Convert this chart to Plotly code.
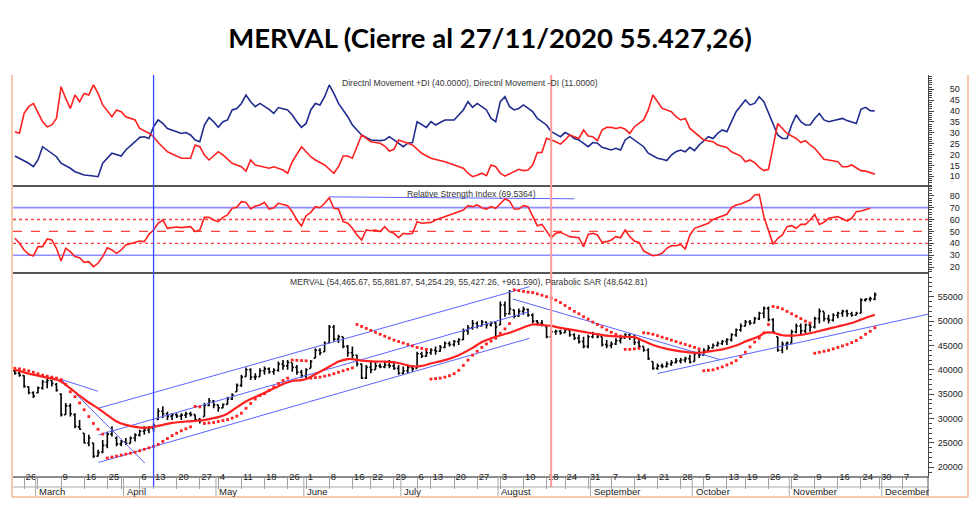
import pandas as pd
import plotly.graph_objects as go
from plotly.subplots import make_subplots

# ---------------- calendar (trading days) ----------------
holidays = ["2020-02-24", "2020-02-25", "2020-03-23", "2020-03-24", "2020-03-31",
            "2020-04-09", "2020-04-10", "2020-05-01", "2020-05-25", "2020-06-15",
            "2020-07-09", "2020-07-10", "2020-08-17", "2020-10-12", "2020-11-23"]
days = [d.strftime("%Y-%m-%d") for d in pd.bdate_range("2020-02-20", "2020-12-11")]
days = [d for d in days if d not in holidays]
pos = {d: i for i, d in enumerate(days)}

# ---------------- price bars (one per trading day from 2020-02-20) ----------------
opens = [39800, 39300, 38800, 36500, 35300, 35300, 36300, 37500, 37800, 37000,
         35000, 30800, 32600, 30800, 28300, 27000, 25000, 25000, 22300, 23200,
         24500, 26800, 26000, 24800, 25200, 24900, 26000, 26600, 27400, 27600,
         28000, 29800, 31500, 31000, 30500, 30800, 30500, 30700, 31000, 30800,
         29800, 30400, 32700, 33600, 32800, 32200, 32900, 34000, 35500, 36800,
         38600, 40000, 38500, 38600, 39800, 40200, 39600, 39900, 41200, 40800,
         41500, 40500, 39500, 38800, 40300, 42400, 44000, 43700, 45500, 48800,
         46300, 46800, 44800, 43500, 43000, 41200, 38300, 40500, 40000, 40800,
         40600, 41000, 40800, 40300, 39300, 39800, 40500, 40300, 43300, 42800,
         43500, 44000, 43800, 44600, 45400, 45200, 45800, 46200, 48000, 48600,
         49500, 49000, 49800, 49200, 49600, 49200, 53300, 51500, 52300, 51000,
         52000, 52400, 51200, 50000, 49600, 48900, 46800, 47800, 47900, 47600,
         48200, 47200, 46500, 45800, 44800, 46800, 47300, 46800, 45200, 45000,
         45300, 46000, 46500, 47200, 46800, 45600, 44800, 44000, 41700, 40300,
         40800, 40700, 41200, 41500, 41800, 42000, 42300, 41700, 43300, 43000,
         44000, 44500, 45000, 45400, 45800, 46200, 47200, 48200, 49000, 49800,
         49600, 50500, 51600, 52600, 50300, 46800, 44000, 45300, 45500, 47800,
         49000, 48000, 49200, 48800, 50500, 52000, 50500, 50200, 51200, 51600,
         52000, 51500, 51200, 51600, 54300, 54500, 54465.67]
highs = [40000, 39600, 38900, 36600, 35600, 36600, 37900, 38200, 37900, 37300,
         35200, 33200, 33100, 31100, 29700, 27000, 26700, 25000, 23600, 25600,
         27300, 28400, 26300, 25600, 26000, 26300, 27000, 27700, 28400, 28400,
         29000, 32100, 32500, 31400, 31100, 31100, 31100, 31400, 31400, 30800,
         30100, 33200, 34200, 33800, 32800, 33100, 34500, 35200, 37200, 39000,
         40500, 40300, 39300, 40300, 40700, 40500, 40300, 41700, 42000, 42000,
         41400, 41000, 40000, 40300, 42000, 44400, 44400, 45800, 49200, 49200,
         47200, 46800, 45100, 44800, 43100, 41300, 41000, 41700, 41700, 41300,
         41700, 42000, 41700, 41000, 40700, 41000, 41000, 43700, 43700, 44100,
         44400, 44800, 45100, 45800, 45800, 46100, 46500, 48500, 49200, 50200,
         49900, 50200, 49900, 49900, 49900, 54000, 54000, 56400, 52300, 52600,
         53000, 52600, 51600, 50200, 50200, 48900, 48200, 48200, 48200, 48500,
         48200, 47500, 47200, 46800, 47200, 47800, 47500, 46800, 46100, 45800,
         46500, 46800, 47500, 47500, 47200, 46500, 44800, 44400, 41700, 41300,
         41300, 41700, 42000, 42400, 42400, 42700, 43100, 43700, 44100, 44400,
         45100, 45400, 45800, 46100, 46500, 47500, 48500, 49500, 50200, 50200,
         50900, 51900, 53000, 53000, 50600, 46800, 45800, 45800, 48200, 49500,
         49500, 49500, 49500, 50900, 52600, 51900, 51300, 51600, 51900, 52300,
         52300, 51900, 51900, 54700, 54700, 55000, 55881.87]
lows = [39000, 38600, 36300, 35000, 34200, 35200, 35900, 36200, 36600, 35500,
        30400, 30800, 30400, 28000, 27700, 24900, 24300, 21900, 22200, 22900,
        23900, 26300, 24300, 24300, 24600, 24900, 25300, 26300, 26700, 27000,
        27300, 29700, 30100, 29700, 29700, 30100, 29700, 30100, 30400, 29400,
        29000, 30400, 32500, 32100, 31400, 32100, 32900, 33800, 35500, 36500,
        38600, 37900, 37900, 38600, 39000, 39200, 39000, 39600, 40000, 40000,
        39600, 39000, 38300, 38300, 40300, 42400, 43000, 43700, 45500, 45800,
        45500, 44400, 42700, 42400, 40700, 38100, 38100, 39300, 40000, 40300,
        40300, 40300, 40000, 39000, 39000, 39300, 39600, 40300, 42400, 42700,
        43100, 43100, 43700, 44400, 44800, 44800, 45100, 46100, 47200, 48200,
        48500, 48900, 48500, 48900, 46800, 49200, 50900, 51300, 50600, 50900,
        51300, 50900, 49500, 49200, 48900, 46500, 46500, 47200, 47200, 47500,
        46800, 46100, 45400, 44400, 44400, 46500, 46500, 44800, 44400, 44400,
        45100, 45400, 46500, 46100, 45100, 44400, 43700, 42000, 40000, 40000,
        40300, 40500, 40800, 41300, 41300, 41500, 41300, 41700, 42400, 43000,
        43700, 44400, 44800, 45100, 45100, 45800, 46800, 47800, 48900, 49200,
        49500, 50200, 50600, 49900, 47500, 43700, 43400, 44100, 45400, 47500,
        47200, 47500, 47800, 48500, 49500, 49900, 49500, 49900, 50600, 50900,
        50900, 50900, 51200, 51600, 54000, 54000, 54254.29]
closes = [39300, 38900, 36600, 35300, 34600, 36300, 37500, 37800, 37200, 35800,
          30800, 32600, 31000, 28400, 27800, 25000, 26000, 22300, 23000, 24500,
          26800, 27500, 24800, 25200, 24900, 26000, 26600, 27400, 27600, 28000,
          28600, 31500, 31000, 30500, 30800, 30500, 30700, 31000, 30800, 29800,
          29500, 32700, 33600, 32800, 32200, 32900, 34000, 34800, 36800, 38500,
          40000, 38500, 38600, 39800, 40200, 39600, 39900, 41200, 40800, 41500,
          40500, 39500, 38800, 40000, 41700, 44000, 43500, 45500, 48800, 46300,
          46800, 44800, 43500, 43000, 41200, 38300, 40500, 40000, 40800, 40600,
          41000, 40800, 40300, 39300, 39800, 40500, 40200, 43300, 42800, 43500,
          44000, 43800, 44600, 45400, 45200, 45800, 46200, 48000, 48600, 49500,
          49000, 49800, 49200, 49600, 48800, 53300, 51500, 52500, 51000, 52000,
          52400, 51200, 50000, 49600, 49300, 46800, 47800, 47900, 47600, 48200,
          47200, 46500, 45800, 44800, 46800, 47300, 46800, 45200, 45000, 45300,
          46000, 46500, 47200, 46800, 45600, 44800, 44000, 42300, 40300, 40800,
          40700, 41200, 41500, 41800, 42000, 42300, 41600, 43300, 43000, 44000,
          44500, 45000, 45400, 45800, 46200, 47200, 48200, 49000, 49800, 49600,
          50500, 51600, 52600, 50300, 47800, 44000, 45300, 45500, 47800, 49000,
          48000, 49200, 48800, 50500, 52000, 50500, 50200, 51200, 51600, 52000,
          51500, 51200, 51600, 54300, 54500, 54600, 55427.26]

# Parabolic SAR, one value per bar
sar = [40300, 40200, 40000, 39800, 39500, 39200, 38900, 38700, 38500, 38300,
       38000, 37000, 35500, 34500, 33200, 31800, 30400, 29000, 27800, 26800,
       21900, 22100, 22300, 22500, 22700, 22900, 23100, 23400, 23700, 24000,
       24300, 24700, 25300, 25900, 26500, 27000, 27500, 27900, 28300,
       32500, 32400,
       29000, 29100, 29200, 29400, 29600, 29800, 30100, 30500, 31100, 32100,
       33100, 34000, 34700, 35100, 35800, 36500, 37200, 37800, 38300,
       42000, 41950, 41900, 41850,
       38300, 38400, 38500, 38700, 38900, 39200, 39500, 39800, 40100, 40400,
       49300, 48900, 48500, 48100, 47700, 47300, 46900, 46500, 46100, 45800,
       45500, 45200, 44900, 44600, 44400, 44200,
       38100, 38200, 38300, 38500, 38800, 39200, 39900, 40900, 42000, 43000,
       43800, 44600, 45300, 45900, 46500, 47500, 48400, 49500,
       56400, 56250, 56100, 55950, 55850, 55600, 55300, 55000, 54700, 54300,
       53800, 53200, 52600, 52000, 51500, 50900, 50400, 49800, 49300, 48800,
       48200, 47700, 47300, 46900,
       44200, 44200, 44300, 44400,
       47600, 47500, 47300, 47000, 46700, 46400, 46100, 45800, 45500, 45200,
       44900, 44600, 44300,
       39800, 39900, 40000, 40300, 40600, 41000, 41400, 41900, 42700, 43600,
       44700, 45700, 46500, 47600, 49300,
       53000, 52800, 52500, 52000, 51500, 51000, 50500, 50000, 49600,
       43400, 43600, 43800, 44000, 44300, 44600, 44900, 45200, 45600, 46000,
       46600, 47300, 47900, 48642.81]

# moving average (red line) vertices: bar number, value
ma_bar = [0, 4, 7, 9, 10, 12, 14, 16, 18, 20, 22, 24, 26, 28, 30, 32, 34, 37, 40, 42,
          44, 46, 48, 50, 52, 55, 58, 60, 62, 63, 65, 67, 70, 72, 73, 75, 78, 80, 83, 86,
          88, 90, 93, 96, 99, 101, 104, 107, 110, 112, 114, 116, 118, 120, 123, 126, 128,
          131, 134, 136, 138, 141, 144, 147, 149, 151, 153, 156, 158, 161, 162, 163, 164,
          166, 168, 170, 172, 175, 178, 181, 183, 185, 186]
ma_val = [40000, 39000, 38400, 38000, 37600, 36200, 34700, 33300, 32100, 30700,
          29400, 28700, 28300, 28100, 28300, 28700, 29100, 29400, 29600, 29900,
          30300, 31000, 32300, 33500, 34400, 35700, 37100, 37700, 37900, 38100,
          39100, 40100, 41700, 42200, 42200, 41900, 41700, 41700, 41400, 40700,
          40800, 41300, 42000, 43000, 44500, 45700, 46800, 47600, 48700, 49300,
          49200, 49000, 48600, 48300, 47800, 47300, 47000, 46800, 46700, 45900,
          45100, 44300, 43800, 43500, 43600, 43900, 44200, 45000, 45800, 46900,
          47500, 47700, 47600, 47100, 47000, 47150, 47500, 48200, 48900, 49600,
          50300, 51000, 51300]

# Directional movement +DI / -DI (bar number, value)
pdi_bar = [0, 1, 3, 4, 5, 6, 7, 8, 9, 10, 12, 13, 15, 17, 18, 19, 21, 23, 24, 26, 27, 28, 29,
           30, 31, 32, 33, 35, 36, 37, 38, 39, 40, 41, 42, 43, 44, 45, 46, 47, 48, 49, 50,
           51, 52, 53, 54, 55, 56, 57, 59, 60, 61, 62, 63, 64, 65, 66, 67, 68, 69, 70, 72,
           73, 74, 75, 77, 79, 80, 81, 82, 83, 84, 85, 86, 87, 88, 89, 90, 91, 93, 95, 97,
           98, 99, 100, 101, 102, 103, 104, 105, 106, 107, 108, 109, 110, 112, 113, 115,
           116, 117, 118, 119, 120, 121, 122, 124, 125, 126, 127, 129, 130, 131, 132, 133,
           134, 136, 137, 139, 140, 141, 142, 143, 144, 145, 146, 147, 148, 150, 151, 152,
           153, 154, 155, 156, 158, 159, 160, 161, 162, 163, 164, 165, 166, 167, 168, 169,
           170, 171, 172, 173, 174, 175, 176, 178, 179, 180, 182, 183, 184, 185, 186]
pdi_val = [19.3, 18.3, 16.0, 14.4, 17.5, 23.6, 22.1, 20.6, 19.0, 16.0, 13.7, 12.1, 10.6,
           10.1, 9.8, 16.0, 20.6, 19.3, 22.1, 25.9, 27.9, 28.2, 27.4, 32.8, 35.9, 34.3,
           32.0, 30.5, 29.7, 30.1, 29.0, 26.7, 25.9, 33.6, 37.0, 35.1, 32.5, 35.1, 35.9,
           40.5, 41.2, 43.5, 47.4, 44.3, 42.0, 43.5, 42.3, 40.8, 38.9, 41.6, 40.5, 38.2,
           35.1, 32.5, 34.3, 40.5, 43.5, 42.8, 46.6, 52.0, 48.1, 43.5, 37.4, 33.6, 31.3,
           29.0, 26.7, 26.4, 26.7, 28.2, 26.7, 25.2, 23.6, 25.2, 25.5, 35.1, 33.6, 32.5,
           35.1, 33.6, 35.9, 35.9, 40.5, 44.3, 41.7, 43.5, 42.0, 40.5, 36.6, 35.1, 44.3,
           46.6, 42.0, 40.5, 41.2, 42.8, 39.7, 36.6, 33.6, 30.5, 29.4, 28.2, 30.1, 29.0,
           27.4, 26.7, 23.6, 25.5, 25.2, 23.3, 22.1, 22.9, 22.1, 26.7, 28.2, 26.7, 23.6,
           20.6, 18.3, 17.8, 17.2, 19.8, 21.3, 22.1, 21.3, 23.3, 21.8, 24.4, 28.2, 27.4,
           29.7, 31.3, 30.5, 35.1, 39.7, 45.1, 42.8, 43.5, 46.6, 44.3, 39.0, 33.6, 29.0,
           27.4, 27.4, 33.6, 38.2, 35.1, 33.6, 33.6, 36.6, 38.9, 35.9, 35.1, 36.2, 36.6,
           35.6, 34.3, 40.8, 41.7, 40.2, 40.0]
mdi_bar = [0, 1, 2, 3, 4, 5, 6, 7, 8, 9, 10, 11, 12, 13, 14, 15, 16, 17, 18, 19, 21, 22, 23,
           24, 26, 27, 29, 30, 31, 33, 36, 38, 39, 40, 41, 42, 44, 45, 47, 49, 50, 51, 52,
           55, 56, 58, 59, 60, 62, 64, 65, 67, 69, 70, 71, 72, 73, 75, 77, 79, 80, 81, 82,
           83, 84, 86, 88, 90, 93, 95, 97, 98, 99, 100, 101, 102, 103, 104, 105, 106, 108,
           109, 110, 111, 112, 113, 114, 115, 117, 118, 119, 120, 121, 122, 123, 124, 125,
           126, 127, 128, 129, 130, 131, 132, 133, 134, 136, 137, 138, 139, 140, 142, 143,
           144, 145, 146, 148, 149, 151, 152, 154, 155, 157, 158, 159, 160, 161, 162, 163,
           164, 165, 166, 167, 169, 170, 171, 172, 173, 174, 175, 176, 178, 179, 180, 181,
           182, 183, 184, 186]
mdi_val = [30.5, 29.8, 39.0, 42.0, 43.5, 38.9, 35.1, 32.8, 33.6, 36.6, 51.2, 45.8, 41.2,
           47.4, 44.3, 48.1, 47.4, 52.0, 48.1, 42.8, 37.4, 40.5, 39.7, 37.4, 35.9, 32.0,
           29.8, 28.2, 25.5, 21.3, 18.3, 18.3, 24.4, 23.6, 19.8, 17.5, 21.3, 19.8, 16.0,
           14.4, 12.4, 17.5, 15.2, 13.7, 14.4, 12.9, 11.4, 16.7, 23.6, 19.0, 17.5, 15.2,
           11.4, 14.4, 19.3, 19.3, 18.3, 29.0, 25.9, 25.2, 23.9, 21.6, 22.4, 26.7, 25.9,
           24.4, 20.6, 18.3, 16.7, 15.2, 13.7, 11.4, 9.8, 10.5, 11.4, 10.3, 15.2, 14.4,
           11.4, 10.1, 12.1, 13.2, 12.6, 12.9, 15.2, 20.9, 21.0, 27.5, 25.9, 24.8, 26.7,
           29.0, 28.2, 27.4, 31.3, 28.5, 28.2, 26.4, 31.3, 32.5, 32.5, 32.0, 32.5, 31.6,
           29.7, 32.8, 35.9, 40.5, 47.4, 44.3, 41.2, 39.7, 37.4, 35.9, 36.6, 32.0, 28.2,
           26.7, 25.9, 24.4, 23.3, 21.3, 19.3, 16.7, 17.5, 16.3, 14.1, 12.6, 13.2, 24.4,
           34.3, 32.0, 29.7, 27.4, 25.5, 26.4, 24.4, 22.9, 20.6, 17.8, 17.5, 16.7, 14.4,
           14.4, 15.2, 14.0, 12.6, 12.4, 11.0]

# RSI (bar number, value)
rsi_bar = [0, 1, 2, 3, 4, 5, 6, 7, 8, 9, 10, 11, 12, 13, 14, 15, 16, 17, 18, 19, 20, 21,
           22, 23, 24, 26, 27, 28, 29, 30, 31, 32, 33, 34, 35, 36, 37, 38, 39, 40, 41, 42,
           43, 44, 45, 46, 47, 48, 49, 50, 51, 52, 53, 54, 55, 56, 57, 59, 60, 61, 62, 63,
           64, 65, 66, 67, 68, 69, 70, 71, 72, 73, 74, 75, 76, 77, 78, 79, 80, 81, 82, 83,
           84, 85, 86, 87, 88, 90, 91, 93, 94, 95, 97, 98, 99, 100, 101, 102, 103, 104,
           106, 107, 108, 109, 110, 111, 112, 113, 114, 115, 116, 117, 118, 119, 120, 122,
           123, 124, 125, 126, 127, 128, 129, 130, 131, 132, 133, 134, 135, 136, 137, 138,
           139, 140, 141, 142, 143, 144, 145, 146, 147, 148, 149, 150, 151, 152, 154, 155,
           156, 157, 158, 159, 160, 161, 162, 163, 164, 165, 166, 167, 168, 169, 170, 171,
           172, 173, 174, 175, 176, 178, 179, 180, 181, 182, 183, 184, 185, 186]
rsi_val = [44.2, 40.0, 34.4, 30.7, 29.3, 37.2, 37.2, 43.6, 42.8, 35.8, 25.1, 35.8, 33.0,
           28.8, 27.9, 24.0, 24.6, 20.4, 23.2, 28.8, 36.3, 34.4, 31.6, 34.4, 38.6, 40.8,
           41.9, 41.4, 47.5, 51.2, 56.8, 59.6, 52.6, 53.2, 53.7, 53.2, 53.4, 54.0, 49.8,
           51.2, 61.8, 61.8, 59.6, 58.2, 61.8, 63.8, 69.4, 70.2, 75.0, 74.4, 68.8, 71.3,
           72.2, 74.4, 68.8, 69.9, 73.6, 71.6, 66.6, 59.6, 54.5, 63.2, 66.0, 70.8, 69.9,
           73.6, 78.3, 69.4, 68.8, 58.2, 56.8, 52.6, 47.0, 42.8, 51.2, 50.6, 51.2, 49.8,
           54.0, 49.8, 48.4, 44.7, 48.4, 47.8, 48.4, 58.2, 56.8, 57.6, 59.6, 62.4, 63.8,
           65.2, 68.0, 71.6, 70.8, 72.2, 69.9, 68.8, 70.8, 69.4, 77.2, 75.5, 68.8, 68.8,
           71.6, 70.8, 62.4, 54.8, 55.9, 49.8, 44.7, 48.4, 49.2, 47.5, 45.6, 44.7, 37.2,
           47.5, 48.4, 47.0, 40.8, 41.4, 42.8, 45.6, 44.7, 51.2, 45.6, 41.9, 40.8, 33.5,
           31.6, 29.6, 30.2, 31.6, 35.8, 38.0, 38.0, 39.1, 35.2, 47.0, 52.6, 54.0, 54.8,
           56.8, 60.1, 61.5, 64.4, 69.9, 72.2, 73.0, 74.4, 76.4, 80.6, 81.1, 62.4, 49.8,
           39.1, 44.2, 47.0, 54.0, 54.8, 52.6, 55.9, 55.9, 59.6, 64.3, 55.9, 57.6, 61.0,
           62.4, 60.4, 58.7, 61.0, 66.6, 67.1, 68.0, 69.5364]
rsi_levels_solid = [70, 30]
rsi_levels_dotted = [60, 40]
rsi_level_dashed = 50
rsi_line_bar = [68, 121]
rsi_line_val = [79.0, 77.4]

# hand-drawn trend lines on the price panel: start bar, start value, end bar, end value
trend_x0 = [9.8, 10.2, 18.1, 18.1, 18.1, 107.7, 139.0]
trend_y0 = [38100, 37900, 32130, 26660, 20990, 54530, 39250]
trend_x1 = [18.0, 28.1, 111.3, 111.3, 111.3, 152.5, 197.5]
trend_y1 = [35600, 20900, 57060, 51940, 46470, 42100, 51400]

marker_blue_date = "2020-04-13"
marker_red_date = "2020-08-19"

week_dates = ["2020-02-26", "2020-03-02", "2020-03-09", "2020-03-16", "2020-03-25",
              "2020-03-30", "2020-04-06", "2020-04-13", "2020-04-20", "2020-04-27",
              "2020-05-04", "2020-05-11", "2020-05-18", "2020-05-26", "2020-06-01",
              "2020-06-08", "2020-06-16", "2020-06-22", "2020-06-29", "2020-07-06",
              "2020-07-13", "2020-07-20", "2020-07-27", "2020-08-03", "2020-08-10",
              "2020-08-18", "2020-08-24", "2020-08-31", "2020-09-07", "2020-09-14",
              "2020-09-21", "2020-09-28", "2020-10-05", "2020-10-13", "2020-10-19",
              "2020-10-26", "2020-11-02", "2020-11-09", "2020-11-16", "2020-11-24",
              "2020-11-30", "2020-12-07"]
week_labels = ["26", "", "9", "16", "25", "", "6", "13", "20", "27", "4", "11", "18", "26",
               "1", "8", "16", "22", "29", "6", "13", "20", "27", "3", "10", "18", "24",
               "31", "7", "14", "21", "28", "5", "13", "19", "26", "2", "9", "16", "24",
               "30", "7"]
month_keys = ["2020-03", "2020-04", "2020-05", "2020-06", "2020-07", "2020-08",
              "2020-09", "2020-10", "2020-11", "2020-12"]
month_names = ["March", "April", "May", "June", "July", "August", "September",
               "October", "November", "December"]

title_text = "MERVAL (Cierre al 27/11/2020 55.427,26)"
di_label = "Directnl Movement +DI (40.0000), Directnl Movement -DI (11.0000)"
rsi_label = "Relative Strength Index (69.5364)"
price_label = ("MERVAL (54,465.67, 55,881.87, 54,254.29, 55,427.26, +961.590), "
               "Parabolic SAR (48,642.81)")

# ---------------- figure ----------------
X_RANGE = [-0.4, 197.5]
D_TOP = [0.7232, 1.0]
D_MID = [0.5062, 0.7232]
D_BOT = [0.0, 0.5062]
ROW_Y = -0.0274   # bottom of the day-label row (paper)
BOT_Y = -0.0524   # bottom of the month-label row (paper)

FONT = "Liberation Sans, Arial, sans-serif"
NAVY = "#1f2b8e"
RED = "#ff2020"
BLUE_LINE = "#5a64ff"

bars = list(range(len(closes)))

fig = make_subplots(rows=3, cols=1, shared_xaxes=True, vertical_spacing=0)

fig.add_trace(go.Scatter(x=pdi_bar, y=pdi_val, mode="lines",
                         line=dict(color=NAVY, width=1.6), hoverinfo="skip"), row=1, col=1)
fig.add_trace(go.Scatter(x=mdi_bar, y=mdi_val, mode="lines",
                         line=dict(color=RED, width=1.6), hoverinfo="skip"), row=1, col=1)

fig.add_trace(go.Scatter(x=rsi_line_bar, y=rsi_line_val, mode="lines",
                         line=dict(color=BLUE_LINE, width=1), hoverinfo="skip"), row=2, col=1)
fig.add_trace(go.Scatter(x=rsi_bar, y=rsi_val, mode="lines",
                         line=dict(color=RED, width=1.6), hoverinfo="skip"), row=2, col=1)

# trend lines
tx, ty = [], []
for a, b, c, d in zip(trend_x0, trend_y0, trend_x1, trend_y1):
    tx += [a, c, None]
    ty += [b, d, None]
fig.add_trace(go.Scatter(x=tx, y=ty, mode="lines",
                         line=dict(color=BLUE_LINE, width=1), hoverinfo="skip"), row=3, col=1)

fig.add_trace(go.Ohlc(x=bars, open=opens, high=highs, low=lows, close=closes,
                      increasing=dict(line=dict(color="black", width=1.6)),
                      decreasing=dict(line=dict(color="black", width=1.6)),
                      tickwidth=0.35, hoverinfo="skip"), row=3, col=1)
fig.add_trace(go.Scatter(x=ma_bar, y=ma_val, mode="lines",
                         line=dict(color=RED, width=2.2, shape="spline", smoothing=0.6),
                         hoverinfo="skip"), row=3, col=1)
fig.add_trace(go.Scatter(x=bars, y=sar, mode="markers",
                         marker=dict(color=RED, size=2.8, symbol="square"),
                         hoverinfo="skip"), row=3, col=1)

shapes = []
# RSI reference levels
for lv in rsi_levels_solid:
    shapes.append(dict(type="line", xref="x2 domain", yref="y2", x0=0, x1=1, y0=lv, y1=lv,
                       line=dict(color="#8c8cff", width=1.6), layer="below"))
for lv in rsi_levels_dotted:
    shapes.append(dict(type="line", xref="x2 domain", yref="y2", x0=0, x1=1, y0=lv, y1=lv,
                       line=dict(color="#ff4040", width=1.3, dash="dot"), layer="below"))
shapes.append(dict(type="line", xref="x2 domain", yref="y2", x0=0, x1=1,
                   y0=rsi_level_dashed, y1=rsi_level_dashed,
                   line=dict(color="#ff4040", width=1.3, dash="dash"), layer="below"))
# panel separators
for yy in [D_TOP[0], D_MID[0]]:
    shapes.append(dict(type="line", xref="paper", yref="paper", x0=0, x1=1, y0=yy, y1=yy,
                       line=dict(color="#555555", width=2)))
# vertical markers
shapes.append(dict(type="line", xref="x3", yref="paper",
                   x0=pos[marker_blue_date], x1=pos[marker_blue_date], y0=ROW_Y, y1=1,
                   line=dict(color="#3848ff", width=1.3)))
shapes.append(dict(type="line", xref="x3", yref="paper",
                   x0=pos[marker_red_date], x1=pos[marker_red_date], y0=ROW_Y, y1=1,
                   line=dict(color="#ff9c9c", width=2)))
# label area rows and month separators
shapes.append(dict(type="line", xref="paper", yref="paper", x0=0, x1=1, y0=ROW_Y, y1=ROW_Y,
                   line=dict(color="#a8a8a8", width=1)))
shapes.append(dict(type="line", xref="paper", yref="paper", x0=1, x1=1, y0=BOT_Y, y1=0,
                   line=dict(color="#555555", width=1)))
month_pos = []
for key in month_keys:
    first = next(d for d in days if d.startswith(key))
    month_pos.append(pos[first])
for mp in month_pos:
    shapes.append(dict(type="line", xref="x3", yref="paper", x0=mp - 0.5, x1=mp - 0.5,
                       y0=BOT_Y, y1=0, line=dict(color="#a8a8a8", width=1)))
# outer light frame
FR = "#f6c9ad"
shapes.append(dict(type="line", xref="paper", yref="paper", x0=-0.0011, x1=-0.0011,
                   y0=BOT_Y, y1=1, line=dict(color=FR, width=2)))
shapes.append(dict(type="line", xref="paper", yref="paper", x0=1.0437, x1=1.0437,
                   y0=BOT_Y, y1=1, line=dict(color=FR, width=2)))
shapes.append(dict(type="line", xref="paper", yref="paper", x0=-0.0011, x1=1.0437,
                   y0=BOT_Y, y1=BOT_Y, line=dict(color=FR, width=2)))

annotations = []
for mp, name in zip(month_pos, month_names):
    annotations.append(dict(x=mp, xref="x3", y=(ROW_Y + BOT_Y) / 2, yref="paper",
                            text=name, showarrow=False, xanchor="left", yanchor="middle",
                            xshift=-1, font=dict(family=FONT, size=9.5, color="#222222")))
lab_font = dict(family=FONT, size=8.6, color="#333333")
annotations.append(dict(x=0.3574, y=0.980, xref="paper", yref="paper", text=di_label,
                        showarrow=False, xanchor="left", yanchor="middle", font=lab_font))
annotations.append(dict(x=0.4284, y=0.7032, xref="paper", yref="paper", text=rsi_label,
                        showarrow=False, xanchor="left", yanchor="middle", font=lab_font))
annotations.append(dict(x=0.3005, y=0.4838, xref="paper", yref="paper", text=price_label,
                        showarrow=False, xanchor="left", yanchor="middle", font=lab_font))

tick_font = dict(family=FONT, size=9, color="#222222")
xcommon = dict(range=X_RANGE, showgrid=False, zeroline=False,
               rangeslider=dict(visible=False))

fig.update_layout(
    width=980, height=509,
    margin=dict(l=13, r=52, t=75, b=33, autoexpand=False),
    paper_bgcolor="white", plot_bgcolor="white",
    showlegend=False,
    title=dict(text="<b>" + title_text + "</b>", x=0.5, xanchor="center",
               y=1 - 38 / 509, yanchor="middle",
               font=dict(family="Lato, Liberation Sans, sans-serif", size=27.5, color="black")),
    xaxis=dict(**xcommon, showticklabels=False, ticks=""),
    xaxis2=dict(**xcommon, showticklabels=False, ticks=""),
    xaxis3=dict(**xcommon, tickmode="array",
                tickvals=[pos[d] for d in week_dates], ticktext=week_labels,
                ticks="outside", ticklen=11, tickwidth=1, tickcolor="#a0a0a0",
                ticklabelposition="outside right", ticklabelstandoff=-9, tickangle=0,
                tickfont=dict(family=FONT, size=9.5, color="#222222"),
                showline=True, linecolor="#8c8c8c", linewidth=2),
    yaxis=dict(domain=D_TOP, range=[5.54, 56.57], side="right",
               tickmode="array", tickvals=[10, 15, 20, 25, 30, 35, 40, 45, 50],
               ticks="outside", ticklen=5, tickcolor="#444444",
               minor=dict(ticks="outside", ticklen=3, dtick=1, tick0=0, tickcolor="#444444"),
               showline=True, linecolor="#444444", linewidth=1,
               showgrid=False, zeroline=False, tickfont=tick_font, ticklabelstandoff=14),
    yaxis2=dict(domain=D_MID, range=[15.04, 88.15], side="right",
                tickmode="array", tickvals=[20, 30, 40, 50, 60, 70, 80],
                ticks="outside", ticklen=5, tickcolor="#444444",
                minor=dict(ticks="outside", ticklen=3, dtick=2, tick0=0, tickcolor="#444444"),
                showline=True, linecolor="#444444", linewidth=1,
                showgrid=False, zeroline=False, tickfont=tick_font, ticklabelstandoff=14),
    yaxis3=dict(domain=D_BOT, range=[18215, 59863], side="right",
                tickmode="array",
                tickvals=[20000, 25000, 30000, 35000, 40000, 45000, 50000, 55000],
                tickformat="d",
                ticks="outside", ticklen=5, tickcolor="#444444",
                minor=dict(ticks="outside", ticklen=3, dtick=1000, tick0=0,
                           tickcolor="#444444"),
                showline=True, linecolor="#444444", linewidth=1,
                showgrid=False, zeroline=False, tickfont=tick_font, ticklabelstandoff=2),
    shapes=shapes,
    annotations=annotations,
)

fig.write_html("out.html", config={"displayModeBar": False},
               post_script="document.body.style.margin='0px';document.body.style.padding='0px';")
